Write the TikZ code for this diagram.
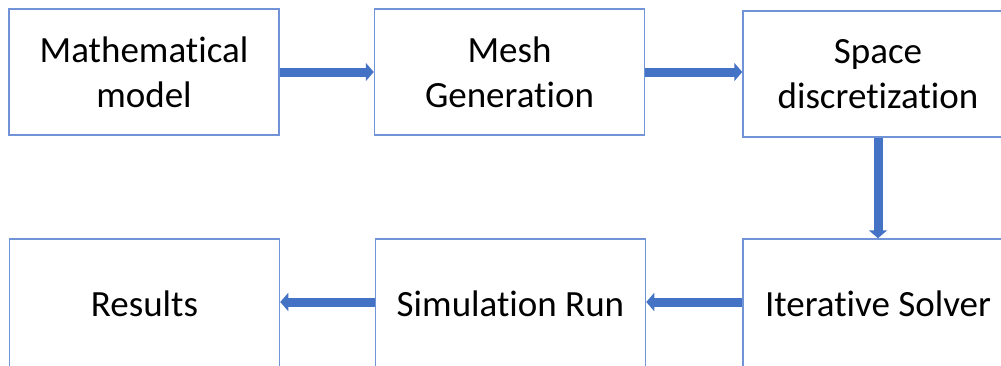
\documentclass[tikz,border=0pt]{standalone}
\usepackage{fontspec}
\setmainfont{Carlito}[Ligatures=NoCommon]
\usetikzlibrary{arrows.meta}
\definecolor{boxline}{HTML}{7094D6}
\definecolor{flow}{HTML}{4472C4}
\begin{document}
\begin{tikzpicture}[x=1bp,y=-1bp,
  stagebox/.style={draw=boxline, line width=1.5bp, fill=white,
    minimum width=270bp, minimum height=126bp, inner sep=0pt,
    align=center, font=\fontsize{37bp}{45bp}\selectfont},
  lowbox/.style={stagebox, minimum height=132bp},
  flowarrow/.style={draw=flow, line width=9bp,
    -{Triangle[length=8bp,width=18bp]}}]
  \useasboundingbox (0,0) rectangle (1001,365);
  \clip (0,0) rectangle (1001,365);
  % top row
  \node[stagebox] (math) at (144,72)   {Mathematical\\model};
  \node[stagebox] (mesh) at (509.5,72) {Mesh\\Generation};
  \node[stagebox] (space) at (878,74)  {Space\\discretization};
  % bottom row (runs past the lower edge)
  \node[lowbox] (res) at (144.5,305)  {\raisebox{3bp}{Results}};
  \node[lowbox] (sim) at (510.5,305)  {\raisebox{3bp}{Simulation Run}};
  \node[lowbox] (iter) at (878,305)   {\raisebox{3bp}{Iterative Solver}};
  % process flow
  \draw[flowarrow] (math.east) -- (mesh.west);
  \draw[flowarrow] (mesh.east) -- (mesh.east -| space.west);
  \draw[flowarrow] (space.south) -- (iter.north);
  \draw[flowarrow] ([yshift=3bp]iter.west) -- ([yshift=3bp]sim.east);
  \draw[flowarrow] ([yshift=3bp]sim.west) -- ([yshift=3bp]res.east);
\end{tikzpicture}
\end{document}
